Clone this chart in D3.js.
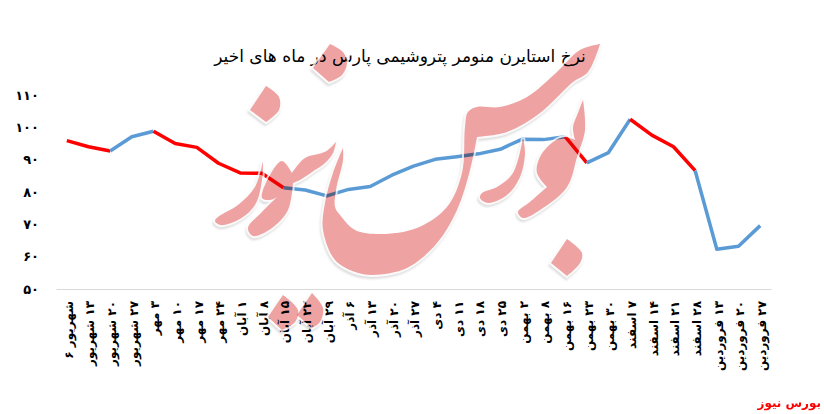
<!DOCTYPE html>
<html>
<head>
<meta charset="utf-8">
<script src="https://cdn.jsdelivr.net/npm/d3@7/dist/d3.min.js"></script>
<style>
  html, body { margin: 0; padding: 0; background: #fff; }
  svg { display: block; }
  text { font-family: "DejaVu Sans", sans-serif; fill: #000; }
</style>
</head>
<body>
<div id="graph"></div>
<script>
var dates = ['شهریور ۶','۱۳ شهریور','۲۰ شهریور','۲۷ شهریور','۳ مهر','۱۰ مهر','۱۷ مهر','۲۴ مهر','۱ آبان','۸ آبان','۱۵ آبان','۲۲ آبان','۲۹ آبان','۶ آذر','۱۳ آذر','۲۰ آذر','۲۷ آذر','۴ دی','۱۱ دی','۱۸ دی','۲۵ دی','۲ بهمن','۸ بهمن','۱۶ بهمن','۲۳ بهمن','۳۰ بهمن','۷ اسفند','۱۴ اسفند','۲۱ اسفند','۲۸ اسفند','۱۳ فروردین','۲۰ فروردین','۲۷ فروردین'];
var prices = [95.9,94.0,92.7,97.1,98.8,95.0,93.8,88.9,85.9,85.8,81.3,80.6,78.8,80.8,81.7,85.2,88.0,90.1,90.9,91.8,93.2,96.3,96.2,97.1,89.0,92.2,102.5,97.6,94.0,86.6,62.3,63.2,69.6];
// one entry per segment between two dates
var trend = ['d','d','u','u','d','d','d','d','d','d','u','u','u','u','u','u','u','u','u','u','u','u','u','d','u','u','d','d','d','u','u','u'];
var yTicks = [50,60,70,80,90,100,110];
var trendColor = {d: '#ff0000', u: '#5b9bd5'};

// watermark outline, traced by hand, it is not data. third value 1 = sharp corner
var watermark = [
  [[330,44,1],[343,52],[347,63],[342,75],[329,82,1],[313,68,1]],
  [[266,86,1],[279,97],[279,110],[266,122,1],[250,110,1]],
  [[263,161,1],[255,187],[238,205],[218,217],[215,221],[220,225],[238,220],[255,205],[262,180]],
  [[282,161],[270,175],[262,198],[270,200],[277,197,1],[262,212],[248,228],[253,236],[272,228],[288,210],[293,183,1],[300,180],[312,172],[325,163],[333,153],[336,142,1],[328,150],[322,153],[305,158],[292,173,1]],
  [[343,148,1],[333,173],[325,203],[323,230],[335,260],[355,272],[373,275],[407,268],[437,243],[457,210],[470,170],[477,137,1],[507,132],[540,113],[573,82],[588,72],[600,44,1],[580,50],[557,72],[527,97],[500,107],[477,107],[468,112],[465,127],[462,173],[447,207],[417,228],[380,234],[355,230],[340,215],[335,207],[336,190],[343,160]],
  [[523,138,1],[513,173],[497,187],[482,193],[480,198],[488,203],[507,195],[520,177],[525,153]],
  [[583,100,1],[585,130],[577,157],[567,187],[540,210],[523,218],[518,212],[530,202],[547,187,1],[537,173],[540,157],[553,142],[565,137],[575,140,1],[573,127],[578,113]],
  [[567,239,1],[582,253],[580,263],[567,276,1],[551,263,1]],
  [[283,295,1],[298,310],[295,322],[282,330,1],[268,317,1]],
  [[312,293,1],[323,308],[320,322],[312,328,1],[297,315,1]]
];

var Width = 824, Height = 414;
var Margin = {top: 95, right: 53, bottom: 125, left: 56};
var InnerWidth = Width - Margin.left - Margin.right;
var InnerHeight = Height - Margin.top - Margin.bottom;

var toFa = function(n){ return String(n).replace(/\d/g, function(c){ return '۰۱۲۳۴۵۶۷۸۹'[+c]; }); };

var svg = d3.select("#graph").append("svg")
            .attr("width", Width)
            .attr("height", Height)
            .attr("viewBox", `0 0 ${Width} ${Height}`);

var g = svg.append("g").attr("transform", `translate(${Margin.left},${Margin.top})`);

var x = d3.scaleBand().domain(dates).range([0, InnerWidth]);
var y = d3.scaleLinear().domain([50, 110]).range([InnerHeight, 0]);

svg.append("text")
   .attr("x", 400).attr("y", 62)
   .attr("text-anchor", "middle")
   .style("font-size", "17px")
   .style("direction", "rtl")
   .text('نرخ استایرن منومر پتروشیمی پارس در ماه های اخیر');

var yAxis = g.append("g").call(d3.axisLeft(y).tickValues(yTicks).tickSize(0).tickPadding(17).tickFormat(toFa));
yAxis.select(".domain").remove();
yAxis.selectAll("text").style("font-size", "13px").style("font-weight", "bold");

var xAxis = g.append("g")
             .attr("transform", `translate(0,${InnerHeight})`)
             .call(d3.axisBottom(x).tickSize(0));
xAxis.select(".domain").attr("stroke", "#d9d9d9").attr("stroke-width", 1);
xAxis.selectAll("text")
     .attr("transform", "translate(1.5,12) rotate(-90)")
     .attr("x", 0).attr("y", 0).attr("dy", "0.35em")
     .style("direction", "rtl")
     .attr("text-anchor", "start")
     .style("font-size", "12px")
     .style("font-weight", "bold");

var line = d3.line()
             .x(function(d){ return x(dates[d]) + x.bandwidth()/2; })
             .y(function(d){ return y(prices[d]); });

// join neighbouring segments of the same trend into one path
var runs = [];
trend.forEach(function(t,i){
  if(runs.length && runs[runs.length-1].t === t){
    runs[runs.length-1].idx.push(i+1);
  } else {
    runs.push({t: t, idx: [i, i+1]});
  }
});

g.selectAll(".run").data(runs)
 .enter().append("path")
 .attr("class", "run")
 .attr("d", function(d){ return line(d.idx); })
 .attr("fill", "none")
 .attr("stroke", function(d){ return trendColor[d.t]; })
 .attr("stroke-width", 3.5)
 .attr("stroke-linejoin", "round");

// smooth between corners, sharp at corners
function outline(pts){
  var start = pts.findIndex(function(p){ return p[2]; });
  var loop = pts.slice(start).concat(pts.slice(0, start), [pts[start]]);
  var piece = d3.line().curve(d3.curveCatmullRom.alpha(0.5));
  var d = 'M' + loop[0][0] + ',' + loop[0][1];
  var cur = [loop[0]];
  for(var i=1;i<loop.length;i++){
    cur.push(loop[i]);
    if(loop[i][2]){
      d += piece(cur).replace(/^M[^CL]*/, '');
      cur = [loop[i]];
    }
  }
  return d + 'Z';
}

var defs = svg.append("defs");
defs.append("filter").attr("id", "soft")
    .attr("x", "-20%").attr("y", "-20%").attr("width", "140%").attr("height", "140%")
    .append("feGaussianBlur").attr("stdDeviation", 1.2);
var cut = defs.append("mask").attr("id", "outside").attr("maskUnits", "userSpaceOnUse")
              .attr("x", 0).attr("y", 0).attr("width", Width).attr("height", Height);
cut.append("rect").attr("width", Width).attr("height", Height).attr("fill", "#fff");
cut.selectAll("path").data(watermark)
   .enter().append("path").attr("d", outline).attr("fill", "#000");

var mark = svg.append("g");

// soft shadow and white rim only outside the shapes
var rim = mark.append("g").attr("mask", "url(#outside)");
rim.selectAll(".shade").data(watermark)
   .enter().append("path")
   .attr("class", "shade")
   .attr("d", outline)
   .attr("transform", "translate(-1,2.5)")
   .attr("fill", "none")
   .attr("stroke", "#000")
   .attr("stroke-opacity", 0.14)
   .attr("stroke-width", 3)
   .attr("filter", "url(#soft)");
rim.selectAll(".halo").data(watermark)
   .enter().append("path")
   .attr("class", "halo")
   .attr("d", outline)
   .attr("fill", "none")
   .attr("stroke", "#fff")
   .attr("stroke-opacity", 0.75)
   .attr("stroke-width", 4);

mark.selectAll(".shape").data(watermark)
    .enter().append("path")
    .attr("class", "shape")
    .attr("d", outline)
    .attr("fill", "#efa2a2")
    .style("mix-blend-mode", "multiply");

svg.append("text")
   .attr("x", 821).attr("y", 407)
   .style("direction", "rtl")
   .attr("text-anchor", "start")
   .style("font-size", "12px")
   .style("font-weight", "bold")
   .style("fill", "#ff0000")
   .text('بورس نیوز');
</script>
</body>
</html>
